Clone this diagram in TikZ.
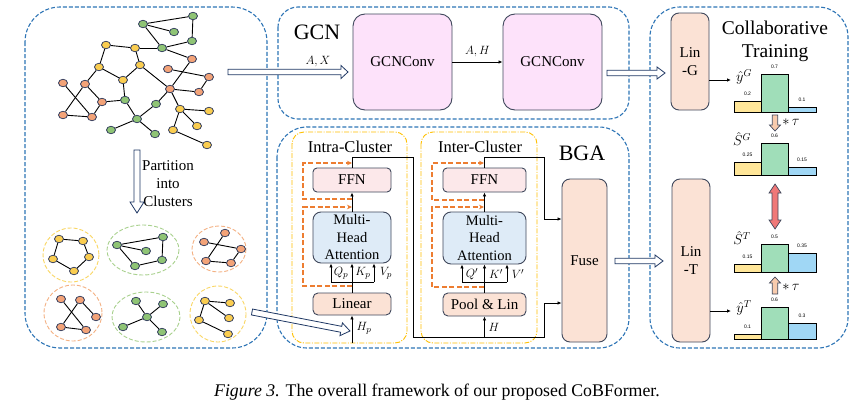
\documentclass[tikz,border=0pt]{standalone}
\usepackage{fontspec}
\setmainfont{Liberation Serif}
\newfontfamily\numf{Liberation Sans}
\usetikzlibrary{shapes.geometric,calc,arrows.meta}

\definecolor{pblue}{RGB}{46,117,182}
\definecolor{bord}{RGB}{64,72,92}
\definecolor{gpink}{RGB}{253,226,250}
\definecolor{salm}{RGB}{251,226,213}
\definecolor{ffnc}{RGB}{252,232,234}
\definecolor{mhac}{RGB}{222,235,247}
\definecolor{ycl}{RGB}{255,192,0}
\definecolor{orl}{RGB}{237,125,49}
\definecolor{ngreen}{RGB}{143,196,117}
\definecolor{nyellow}{RGB}{250,205,80}
\definecolor{norange}{RGB}{243,163,120}
\definecolor{nbord}{RGB}{47,58,92}
\definecolor{cly}{RGB}{250,215,100}
\definecolor{clg}{RGB}{169,209,142}
\definecolor{clo}{RGB}{244,177,131}
\definecolor{bary}{RGB}{255,230,153}
\definecolor{barg}{RGB}{160,222,185}
\definecolor{barb}{RGB}{160,215,245}
\definecolor{peach}{RGB}{248,203,173}
\definecolor{redar}{RGB}{240,120,120}
\definecolor{harrc}{RGB}{31,56,100}

\tikzset{
  panel/.style={draw=pblue, line width=1.1pt, dash pattern=on 4pt off 2pt, rounded corners=#1},
  ybox/.style={draw=ycl, line width=0.9pt, dash pattern=on 5pt off 1.5pt on 1pt off 1.5pt, rounded corners=12pt},
  gnode/.style={ellipse, draw=nbord, line width=0.7pt, fill=ngreen, minimum width=9pt, minimum height=7.5pt, inner sep=0pt},
  ynode/.style={gnode, fill=nyellow},
  onode/.style={gnode, fill=norange},
  edge/.style={draw=black, line width=0.9pt},
  clus/.style={line width=0.9pt, dash pattern=on 4pt off 2pt},
  blk/.style={draw=bord, line width=0.9pt, rounded corners=#1, align=center, inner sep=0pt, font=\fontsize{15}{18}\selectfont},
  arr/.style={draw=black, line width=0.8pt, -{Latex[length=4pt,width=3.5pt]}},
  plain/.style={draw=black, line width=0.8pt},
  resid/.style={draw=orl, line width=1.2pt, dash pattern=on 5pt off 2.5pt, -{Stealth[length=5pt,width=4.5pt]}},
  hollow/.style={draw=harrc, line width=0.8pt, fill=white},
  barr/.style={draw=black, line width=0.9pt},
  barlab/.style={font=\numf\fontsize{5}{6}\selectfont, inner sep=0pt},
  mlab/.style={font=\fontsize{13}{15}\selectfont, inner sep=0pt},
  dlab/.style={font=\fontsize{14.5}{16}\selectfont, inner sep=0pt},
}

\newcommand\harr[6]{%
  \coordinate (hb) at ($(#2)!#5!(#1)$);
  \draw[#6] ($(#1)!#3!90:(#2)$) -- ($(hb)!#3!-90:(#1)$) -- ($(hb)!#4!-90:(#1)$) -- (#2)
     -- ($(hb)!#4!90:(#1)$) -- ($(hb)!#3!90:(#1)$) -- ($(#1)!#3!-90:(#2)$) -- cycle;
}
\newcommand\dharr[6]{%
  \coordinate (hb) at ($(#2)!#5!(#1)$);
  \coordinate (ha) at ($(#1)!#5!(#2)$);
  \draw[#6] (#1) -- ($(ha)!#4!90:(#2)$) -- ($(ha)!#3!90:(#2)$) -- ($(hb)!#3!-90:(#1)$)
     -- ($(hb)!#4!-90:(#1)$) -- (#2) -- ($(hb)!#4!90:(#1)$) -- ($(hb)!#3!90:(#1)$)
     -- ($(ha)!#3!-90:(#2)$) -- ($(ha)!#4!-90:(#2)$) -- cycle;
}
% baseline, top yellow, top green, top blue, labels
\newcommand\mybars[7]{%
  \draw[barr, fill=bary] (734,#1) rectangle (761,#2);
  \draw[barr, fill=barg] (761,#1) rectangle (788,#3);
  \draw[barr, fill=barb] (788,#1) rectangle (816,#4);
  \node[barlab] at (747.5,{#2-7}) {#5};
  \node[barlab] at (774.5,{#3-7}) {#6};
  \node[barlab] at (802,{#4-7}) {#7};
}

\begin{document}
\begin{tikzpicture}[x=1pt,y=-1pt]
\useasboundingbox (0,0) rectangle (868,407);
\fill[white] (0,0) rectangle (868,407);

% ---------- panels ----------
\draw[panel=35pt] (25,7) rectangle (267,348);
\draw[panel=20pt] (278,7) rectangle (629,119);
\draw[panel=30pt] (277,127) rectangle (629,348);
\draw[panel=30pt] (650,7) rectangle (848,348);

% ---------- big graph ----------
\foreach \n/\x/\y in {g1/143/24, g2/193/16, g3/174/32, g4/192/41, g5/162/48, g6/125/100, g7/156/104, g8/137/119, g9/111/130, g10/155/134}
  \node[gnode] (\n) at (\x,\y) {};
\foreach \n/\x/\y in {y1/106/45, y2/135/48, y3/99/67, y4/140/65, y5/123/80, y6/180/109, y7/209/111, y8/197/126, y9/173/130, y10/207/145}
  \node[ynode] (\n) at (\x,\y) {};
\foreach \n/\x/\y in {o1/192/59, o2/168/69, o3/209/77, o4/199/92, o5/170/89, o6/63/83, o7/85/84, o8/102/102, o9/63/115, o10/92/117}
  \node[onode] (\n) at (\x,\y) {};
\foreach \a/\b in {g1/g2, g1/g3, g2/g4, g1/g5, g4/g5, g5/y2, y1/y2, y1/y3, y2/y4, g5/o1, o1/o5, o2/o3, o3/o4, o5/o4, y3/y5, y3/o7, y4/y5, y4/o5, y5/g6, o6/o10, o7/o9, o9/o10, o7/o8, o8/g6, o8/o10, g6/g8, g8/g7, g7/o5, g8/g9, g8/g10, o5/y6, y6/y7, y6/y8, y6/y9, y9/y10}
  \draw[edge] (\a) -- (\b);

% ---------- clusters ----------
\draw[clus, draw=cly] (71,255) ellipse [x radius=28, y radius=27];
\draw[clus, draw=clg] (143,250) ellipse [x radius=36, y radius=25];
\draw[clus, draw=clo] (219,249) ellipse [x radius=27, y radius=23];
\draw[clus, draw=clo] (73,313) ellipse [x radius=29, y radius=28];
\draw[clus, draw=clg] (146,317) ellipse [x radius=34, y radius=25];
\draw[clus, draw=cly] (218,314) ellipse [x radius=28, y radius=28];

\foreach \n/\x/\y in {a1/59/239, a2/83/241, a3/89/257, a4/74/271, a5/53/259}
  \node[ynode] (\n) at (\x,\y) {};
\foreach \a/\b in {a1/a2, a2/a3, a3/a4, a4/a5, a5/a1} \draw[edge] (\a) -- (\b);

\foreach \n/\x/\y in {b1/117/245, b2/163/237, b3/162/260, b4/135/266, b5/146/251}
  \node[gnode] (\n) at (\x,\y) {};
\foreach \a/\b in {b1/b2, b2/b3, b3/b4, b4/b1, b1/b5} \draw[edge] (\a) -- (\b);

\foreach \n/\x/\y in {c1/204/242, c2/225/233, c3/241/249, c4/231/263, c5/206/261}
  \node[onode] (\n) at (\x,\y) {};
\foreach \a/\b in {c1/c3, c2/c5, c5/c4, c4/c3} \draw[edge] (\a) -- (\b);

\foreach \n/\x/\y in {d1/61/299, d2/80/300, d3/96/317, d4/86/330, d5/61/327}
  \node[onode] (\n) at (\x,\y) {};
\foreach \a/\b in {d1/d4, d2/d5, d2/d3, d5/d4} \draw[edge] (\a) -- (\b);

\foreach \n/\x/\y in {e0/147/317, e1/136/301, e2/163/304, e3/123/327, e4/162/332}
  \node[gnode] (\n) at (\x,\y) {};
\foreach \b in {e1,e2,e3,e4} \draw[edge] (e0) -- (\b);

\foreach \n/\x/\y in {f1/205/301, f2/230/303, f3/229/318, f4/199/320, f5/228/334}
  \node[ynode] (\n) at (\x,\y) {};
\foreach \a/\b in {f1/f2, f1/f3, f1/f4, f4/f5} \draw[edge] (\a) -- (\b);

\node[align=center, font=\fontsize{15}{18}\selectfont, inner sep=0pt] (part) at (168,184) {Partition\\into\\Clusters};

% ---------- GCN ----------
\node[font=\fontsize{22}{24}\selectfont, inner sep=0pt] (gcnlab) at (317,32) {GCN};
\node[blk=12pt, fill=gpink, minimum width=99pt, minimum height=96pt] (gc1) at (402.5,62) {GCNConv};
\node[blk=12pt, fill=gpink, minimum width=99pt, minimum height=96pt] (gc2) at (552.5,62) {GCNConv};
\draw[arr] (gc1.east) -- node[mlab, above=5pt] {$A,H$} (gc2.west);

% ---------- BGA ----------
\node[font=\fontsize{22}{24}\selectfont, inner sep=0pt] (bgalab) at (582,153) {BGA};
\draw[ybox] (292,132) rectangle (407,343);
\draw[ybox] (421,132) rectangle (537,343);
\node[font=\fontsize{16.5}{18}\selectfont, inner sep=0pt] (intralab) at (350,147) {Intra-Cluster};
\node[font=\fontsize{16.5}{18}\selectfont, inner sep=0pt] (interlab) at (480,147) {Inter-Cluster};

\node[blk=4pt, fill=ffnc, minimum width=78pt, minimum height=24pt] (ffn1) at (352,180) {FFN};
\node[blk=8pt, fill=mhac, minimum width=78pt, minimum height=51pt, font=\fontsize{14.5}{17.5}\selectfont] (mha1) at (352,237.5) {Multi-\\Head\\Attention};
\node[blk=5pt, fill=salm, minimum width=78pt, minimum height=22pt] (lin1) at (352,304) {Linear};

\node[blk=4pt, fill=ffnc, minimum width=83pt, minimum height=24pt] (ffn2) at (484.5,180) {FFN};
\node[blk=8pt, fill=mhac, minimum width=83pt, minimum height=52pt, font=\fontsize{14.5}{17.5}\selectfont] (mha2) at (484.5,238) {Multi-\\Head\\Attention};
\node[blk=5pt, fill=salm, minimum width=83pt, minimum height=23pt] (pool) at (484.5,304.5) {Pool \& Lin};

\node[blk=8pt, fill=salm, minimum width=45pt, minimum height=163pt] (fuse) at (584.5,260.5) {Fuse};

% intra wiring
\coordinate (hp0) at (352,343);
\draw[arr] (hp0) -- (lin1.south);
\node[mlab] (hplab) at (364,328) {$H_p$};
\coordinate (q1) at (331,282);
\coordinate (v1) at (374,282);
\draw[plain] (q1) -- (v1);
\draw[arr] (q1) -- (q1 |- mha1.south);
\draw[arr] (v1) -- (v1 |- mha1.south);
\draw[arr] (lin1.north) -- (mha1.south);
\node[mlab] (qlab1) at (341,273.5) {$Q_p$};
\node[mlab] (klab1) at (363,273.5) {$K_p$};
\node[mlab] (vlab1) at (386,273.5) {$V_p$};
\draw[arr] (mha1.north) -- (ffn1.south);
\coordinate (t1) at (352,157);
\coordinate (r1) at (413,157);
\coordinate (r2) at (413,337);
\coordinate (r3) at (544,337);
\coordinate (r4) at (544,303);
\draw[plain] (ffn1.north) -- (t1) -- (r1) -- (r2) -- (r3) -- (r4);
\draw[arr] (r4) -- (r4 -| fuse.west);

% inter wiring
\coordinate (jh) at (484.5,337);
\draw[arr] (jh) -- (pool.south);
\node[mlab] (hlab) at (494,327) {$H$};
\coordinate (q2) at (462,282);
\coordinate (v2) at (507,282);
\draw[plain] (q2) -- (v2);
\draw[arr] (q2) -- (q2 |- mha2.south);
\draw[arr] (v2) -- (v2 |- mha2.south);
\draw[arr] (pool.north) -- (mha2.south);
\node[mlab] (qlab2) at (472,274) {$Q'$};
\node[mlab] (klab2) at (496,274) {$K'$};
\node[mlab] (vlab2) at (518,274) {$V'$};
\draw[arr] (mha2.north) -- (ffn2.south);
\coordinate (u1) at (484.5,157);
\coordinate (u2) at (544,157);
\coordinate (u3) at (544,219);
\draw[plain] (ffn2.north) -- (u1) -- (u2) -- (u3);
\draw[arr] (u3) -- (u3 -| fuse.west);

% residual connections
\coordinate (ra1) at (352,199); \coordinate (ra2) at (303,199); \coordinate (ra3) at (303,163); \coordinate (ra4) at (352,163);
\draw[resid] (ra1) -- (ra2) -- (ra3) -- (ra4);
\coordinate (rb1) at (352,286); \coordinate (rb2) at (303,286); \coordinate (rb3) at (303,207); \coordinate (rb4) at (352,207);
\draw[resid] (rb1) -- (rb2) -- (rb3) -- (rb4);
\coordinate (rc1) at (484,200); \coordinate (rc2) at (432,200); \coordinate (rc3) at (432,163); \coordinate (rc4) at (484,163);
\draw[resid] (rc1) -- (rc2) -- (rc3) -- (rc4);
\coordinate (rd1) at (484,287); \coordinate (rd2) at (432,287); \coordinate (rd3) at (432,207); \coordinate (rd4) at (484,207);
\draw[resid] (rd1) -- (rd2) -- (rd3) -- (rd4);

% ---------- Collaborative training ----------
\node[align=center, font=\fontsize{19.5}{23}\selectfont, inner sep=0pt] (ctlab) at (775,41.5) {Collaborative\\Training};
\node[blk=8pt, fill=salm, minimum width=38pt, minimum height=97pt] (ling) at (690,61.5) {Lin\\-G};
\node[blk=8pt, fill=salm, minimum width=38pt, minimum height=163pt] (lint) at (691,260.5) {Lin\\-T};

\coordinate (yg) at (731,80);
\draw[arr] (ling.east |- yg) -- (yg);
\node[dlab] (yglab) at (744,77) {$\hat{y}^G$};
\mybars{112}{101}{74}{107}{0.2}{0.7}{0.1}

\coordinate (ta1) at (775,115); \coordinate (ta2) at (775,131);
\harr{ta1}{ta2}{2.7pt}{5.5pt}{6pt}{draw=bord, line width=0.7pt, fill=peach}
\node[font=\fontsize{14}{16}\selectfont, inner sep=0pt] (tau1) at (791,122) {$*\,\tau$};

\node[dlab] (sglab) at (742,139) {$\hat{S}^G$};
\mybars{175}{162}{143}{167}{0.25}{0.6}{0.15}

\coordinate (ra) at (775,184); \coordinate (rb) at (775,229);
\dharr{ra}{rb}{3pt}{6pt}{9pt}{draw=bord, line width=0.7pt, fill=redar}

\node[dlab] (stlab) at (742,238) {$\hat{S}^T$};
\mybars{272}{264}{244}{253}{0.15}{0.5}{0.35}

\coordinate (tb1) at (775,294); \coordinate (tb2) at (775,277);
\harr{tb1}{tb2}{2.7pt}{5.5pt}{6pt}{draw=bord, line width=0.7pt, fill=peach}
\node[font=\fontsize{14}{16}\selectfont, inner sep=0pt] (tau2) at (791,287) {$*\,\tau$};

\coordinate (yt) at (731,311);
\draw[arr] (lint.east |- yt) -- (yt);
\node[dlab] (ytlab) at (744,308) {$\hat{y}^T$};
\mybars{339}{334}{307}{323}{0.1}{0.6}{0.3}

% ---------- hollow arrows ----------
\coordinate (h1a) at (228,72); \coordinate (h1b) at (348,72);
\harr{h1a}{h1b}{2.8pt}{6.5pt}{7pt}{hollow}
\node[mlab] (axlab) at (318,62) {$A,X$};
\coordinate (h2a) at (137,150); \coordinate (h2b) at (137,213);
\harr{h2a}{h2b}{3pt}{7pt}{11pt}{hollow}
\coordinate (h3a) at (607,73); \coordinate (h3b) at (665,73);
\harr{h3a}{h3b}{2.8pt}{6pt}{8pt}{hollow}
\coordinate (h4a) at (615,261); \coordinate (h4b) at (663,261);
\harr{h4a}{h4b}{2.8pt}{6pt}{8pt}{hollow}
\coordinate (h5a) at (252,312); \coordinate (h5b) at (350,331);
\harr{h5a}{h5b}{3pt}{6.5pt}{9pt}{hollow}

% ---------- caption ----------
\node[font=\fontsize{17.8}{20}\selectfont, inner sep=0pt] (cap) at (437,392) {\textit{Figure 3.} The overall framework of our proposed CoBFormer.};
\end{tikzpicture}
\end{document}
